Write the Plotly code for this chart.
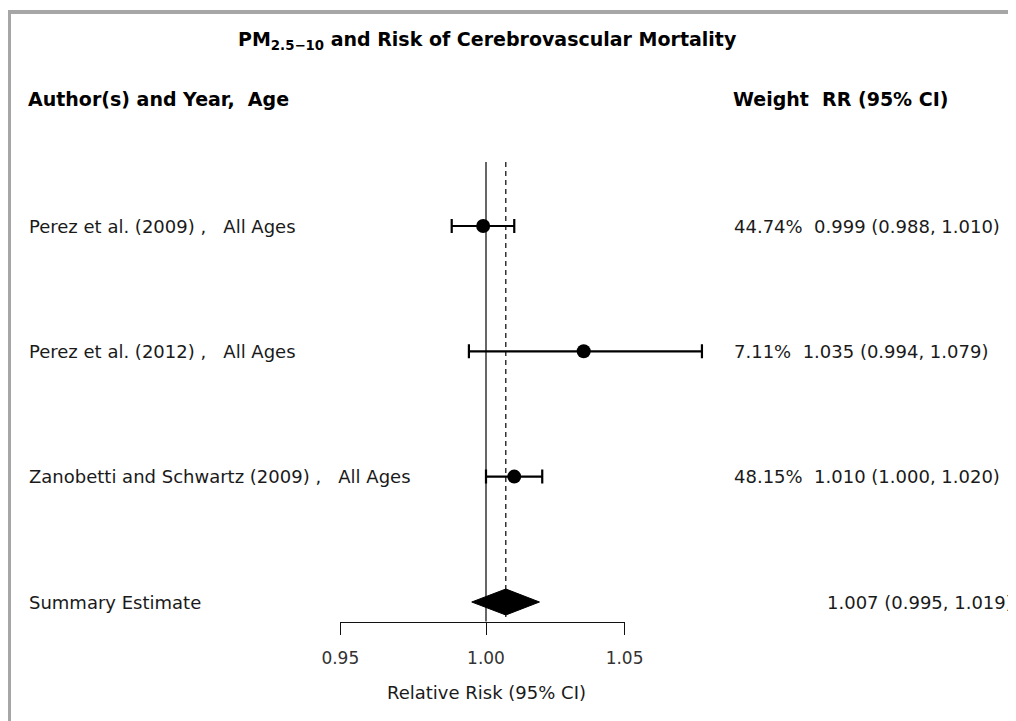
import math
import plotly.graph_objects as go

# ---------------- data ----------------
study_labels = ["Perez et al. (2009)", "Perez et al. (2012)", "Zanobetti and Schwartz (2009)"]
study_ages = ["All Ages", "All Ages", "All Ages"]
weights = [44.74, 7.11, 48.15]
rr = [0.999, 1.035, 1.010]
ci_lo = [0.988, 0.994, 1.000]
ci_hi = [1.010, 1.079, 1.020]

summary_label = "Summary Estimate"
summary_rr = 1.007
summary_lo = 0.995
summary_hi = 1.019

tick_vals = [0.95, 1.00, 1.05]
tick_labels = ["0.95", "1.00", "1.05"]

title_main = "PM"
title_sub = "2.5\u221210"
title_rest = " and Risk of Cerebrovascular Mortality"
header_left = "Author(s) and Year,  Age"
header_right = "Weight  RR (95% CI)"
x_title = "Relative Risk (95% CI)"

# ---------------- layout geometry (pixels, in window coordinates) ----------------
W, H = 1016, 721
OFF = 8                    # page body margin that offsets the figure in the window
PX_PER_LOG10 = 6539.5      # horizontal scale of the log axis
X_ONE = 486.0 - OFF        # figure pixel where RR = 1
row_y0, row_step = 226, 125.3
summary_y = 602
line_top = 162
axis_y = 621.5
diamond_half = 13

row_y = [row_y0 + i * row_step for i in range(len(rr))]

x_range = [-X_ONE / PX_PER_LOG10, (W - X_ONE) / PX_PER_LOG10]
y_range = [H + OFF, OFF]   # y data units = window pixels
def px(v):
    return X_ONE + math.log10(v) * PX_PER_LOG10

def paper_x(window_x):
    return (window_x - OFF) / W

REG = "DejaVu Sans"
TXT = "#1a1a1a"

fig = go.Figure()

# reference line at 1 and dashed summary line
fig.add_trace(go.Scatter(x=[1.0, 1.0], y=[line_top, axis_y], mode="lines",
                         line=dict(color="black", width=1.2), hoverinfo="skip", showlegend=False))
fig.add_trace(go.Scatter(x=[summary_rr, summary_rr], y=[line_top, summary_y + diamond_half + 3], mode="lines",
                         line=dict(color="black", width=1.2, dash="5px,4px"), hoverinfo="skip", showlegend=False))

# study estimates with CIs
fig.add_trace(go.Scatter(
    x=rr, y=row_y, mode="markers",
    marker=dict(symbol="circle", size=14, color="black"),
    error_x=dict(type="data", symmetric=False,
                 array=[h - e for h, e in zip(ci_hi, rr)],
                 arrayminus=[e - l for e, l in zip(rr, ci_lo)],
                 color="black", thickness=2.2, width=7),
    hoverinfo="skip", showlegend=False))

# summary diamond
fig.add_trace(go.Scatter(
    x=[summary_lo, summary_rr, summary_hi, summary_rr, summary_lo],
    y=[summary_y, summary_y - diamond_half, summary_y, summary_y + diamond_half, summary_y],
    mode="lines", fill="toself", fillcolor="black", line=dict(color="black", width=1),
    hoverinfo="skip", showlegend=False))

# invisible trace for the visible bottom axis
fig.add_trace(go.Scatter(x=[tick_vals[0], tick_vals[-1]], y=[axis_y, axis_y], xaxis="x2", yaxis="y",
                         mode="markers", marker=dict(opacity=0), hoverinfo="skip", showlegend=False))

ann = []
def add_text(text, x, y, size=18, bold=False, anchor="left", color=TXT):
    ann.append(dict(text=text, x=paper_x(x), xref="paper", y=y, yref="y",
                    xanchor=anchor, yanchor="middle", showarrow=False,
                    font=dict(family=REG, size=size, color=color,
                              weight="bold" if bold else "normal")))

add_text(f"{title_main}<sub>{title_sub}</sub>{title_rest}", 236, 40, size=19, bold=True, color="black")
add_text(header_left, 26, 99, size=19, bold=True, color="black")
add_text(header_right, 731, 99, size=19, bold=True, color="black")

for i in range(len(rr)):
    add_text(f"{study_labels[i]} ,\u00a0\u00a0\u00a0{study_ages[i]}", 27, row_y[i])
    add_text(f"{weights[i]:.2f}%\u00a0\u00a0{rr[i]:.3f} ({ci_lo[i]:.3f}, {ci_hi[i]:.3f})", 732, row_y[i])

add_text(summary_label, 27, summary_y)
add_text(f"{summary_rr:.3f} ({summary_lo:.3f}, {summary_hi:.3f})", 825, summary_y)
add_text(x_title, 486, 692, anchor="center")

fig.update_layout(
    template="none",
    width=W, height=H, autosize=False,
    margin=dict(l=0, r=0, t=0, b=0, pad=0),
    paper_bgcolor="white", plot_bgcolor="rgba(0,0,0,0)",
    showlegend=False,
    xaxis=dict(type="log", range=x_range, domain=[0, 1], visible=False, fixedrange=True,
               automargin=False),
    yaxis=dict(range=y_range, domain=[0, 1], visible=False, fixedrange=True, automargin=False),
    xaxis2=dict(type="log", range=[math.log10(tick_vals[0]), math.log10(tick_vals[-1])],
                domain=[px(tick_vals[0]) / W, px(tick_vals[-1]) / W],
                anchor="free", position=1 - (axis_y - OFF) / H, automargin=False,
                showline=True, linecolor="#111", linewidth=1.4,
                ticks="outside", ticklen=12, tickwidth=1.4, tickcolor="#111",
                tickvals=tick_vals, ticktext=tick_labels, ticklabelstandoff=9,
                tickfont=dict(family=REG, size=17, color="#333"),
                showgrid=False, zeroline=False, fixedrange=True),
    annotations=ann,
    shapes=[
        dict(type="line", xref="paper", yref="y", x0=paper_x(9), x1=1.0, y0=12, y1=12,
             line=dict(color="#a6a6a6", width=4)),
        dict(type="line", xref="paper", yref="y", x0=paper_x(9), x1=paper_x(9), y0=10, y1=H + OFF,
             line=dict(color="#a6a6a6", width=4)),
    ],
)

fig.write_html("out.html")
